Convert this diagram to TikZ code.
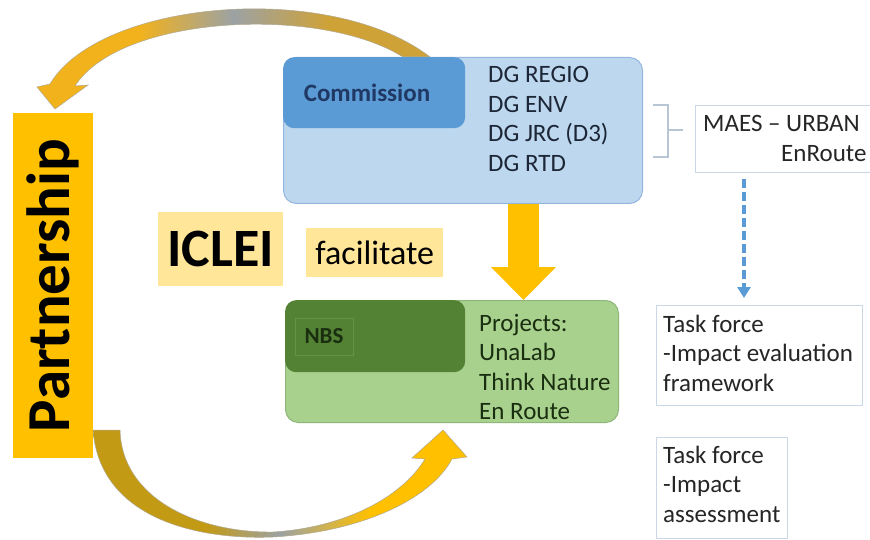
\documentclass[tikz,border=0pt]{standalone}
\usepackage{fontspec}
\setmainfont{Carlito}
\usetikzlibrary{arrows.meta}

\definecolor{gold}{HTML}{FFC000}
\definecolor{goldpale}{HTML}{FFE699}
\definecolor{golddeep}{HTML}{C39A14}
\definecolor{goldtan}{HTML}{CFA238}
\definecolor{goldsun}{HTML}{F2B21C}
\definecolor{arcgray}{HTML}{9CA2A4}
\definecolor{arcedge}{HTML}{B0A890}
\definecolor{bluepale}{HTML}{BDD7EE}
\definecolor{blueedge}{HTML}{94B6DE}
\definecolor{bluemid}{HTML}{5B9BD5}
\definecolor{navy}{HTML}{1F3864}
\definecolor{greenpale}{HTML}{A9D18E}
\definecolor{greenedge}{HTML}{8DB678}
\definecolor{greendeep}{HTML}{548235}
\definecolor{inkgreen}{HTML}{1A2E10}
\definecolor{inkblue}{HTML}{1C2636}
\definecolor{paneledge}{HTML}{C9D7E6}
\definecolor{bracketgray}{HTML}{B7C5D5}

\pgfdeclarehorizontalshading{toparc}{100bp}{color(0bp)=(goldsun); color(25bp)=(goldsun); color(38bp)=(goldsun); color(50bp)=(arcgray); color(62bp)=(goldtan); color(75bp)=(goldtan); color(100bp)=(goldtan)}
\pgfdeclarehorizontalshading{lowarc}{100bp}{color(0bp)=(golddeep); color(25bp)=(golddeep); color(40bp)=(golddeep); color(50bp)=(arcgray); color(62bp)=(gold); color(75bp)=(gold); color(100bp)=(gold)}

\newcommand{\txtfont}{\fontsize{25}{29.5}\selectfont}

\tikzset{
  panel/.style={draw=#1, line width=1pt, rounded corners=13pt, anchor=north west, inner sep=0pt},
  headbox/.style={rounded corners=11pt, anchor=north west, inner sep=0pt},
  listtext/.style={anchor=base west, align=left, inner sep=0pt, font=\txtfont},
  notebox/.style={draw=paneledge, line width=1pt, fill=white, anchor=north west, inner sep=0pt},
  tagbox/.style={fill=goldpale, anchor=north west, inner sep=0pt},
}

\begin{document}
\begin{tikzpicture}[x=1pt, y=-1pt]
\path[fill=white, use as bounding box] (0,0) rectangle (870,540);

\shade[shading=toparc, draw=arcedge, line width=0.5pt]
  (403,57) -- (430,57) .. controls (330,-20) and (100,0) .. (50,84)
  -- (37,87) -- (55,109) -- (88,85) -- (75,86)
  .. controls (120,15) and (320,5) .. (403,57) -- cycle;
\shade[shading=lowarc, draw=arcedge, line width=0.5pt]
  (93,430) .. controls (100,520) and (200,540) .. (273,537)
  .. controls (360,532) and (430,500) .. (452,459)
  -- (467,457) -- (443,430) -- (412,458) -- (425,459)
  .. controls (400,500) and (340,528) .. (273,532)
  .. controls (200,533) and (122,500) .. (120,430) -- cycle;

\node[fill=gold, minimum width=345pt, minimum height=80pt, rotate=90,
  font=\fontsize{61}{62}\selectfont\bfseries] (partner) at (53,285.5) {Partnership};

\node[panel=blueedge, fill=bluepale, minimum width=359pt, minimum height=146pt] (comm) at (283,57) {};
\node[headbox, fill=bluemid, minimum width=182pt, minimum height=71pt] (commhead) at (283,57) {};
\node[font=\fontsize{25}{29}\selectfont\bfseries, text=navy] (commlabel) at (367,93) {Commission};
\node[listtext, text=inkblue] (dglist) at (488,171.5) {DG REGIO\\DG ENV\\DG JRC (D3)\\DG RTD};

\node[tagbox, minimum width=125pt, minimum height=74pt, font=\fontsize{54}{54}\selectfont\bfseries] (iclei) at (158,212) {ICLEI};
\node[tagbox, minimum width=137pt, minimum height=49pt, font=\fontsize{34}{34}\selectfont] (facil) at (306,228) {facilitate};

\node[panel=greenedge, fill=greenpale, minimum width=333pt, minimum height=122pt] (nbs) at (285,300) {};
\node[headbox, fill=greendeep, minimum width=180pt, minimum height=72pt] (nbshead) at (285,300) {};
\node[draw=greendeep!80!greenpale, line width=0.6pt, minimum width=58pt, minimum height=37pt, inner sep=0pt,
  font=\fontsize{23}{25}\selectfont\bfseries, text=inkgreen] (nbslabel) at (324,336.5) {NBS};
\node[listtext, text=inkgreen] (projects) at (479,419.5) {Projects:\\UnaLab\\Think Nature\\En Route};

\coordinate (dropx) at (523.5,0);
\draw[gold, line width=31pt, -{Triangle[width=65pt,length=33pt,line width=0pt]}] (comm.south -| dropx) -- (nbs.north -| dropx);

\node[notebox, minimum width=190pt, minimum height=67pt] (maes) at (695,105) {};
\node[listtext, text=black!85] (maestext) at (703,161.5) {MAES – URBAN\\\hspace*{78pt}EnRoute};
\draw[bracketgray, line width=1.2pt] (653,105) -- (668,105) -- (668,157) -- (653,157) (668,130) -- (683,130);

\node[notebox, minimum width=206pt, minimum height=100pt] (tf1) at (656,305) {};
\node[listtext, text=black!85] (tf1text) at (663,391) {Task force\\-Impact evaluation\\framework};
\node[notebox, minimum width=131pt, minimum height=101pt] (tf2) at (656,437) {};
\node[listtext, text=black!85] (tf2text) at (663,522) {Task force\\-Impact\\assessment};

\coordinate (dashx) at (744,0);
\draw[bluemid, line width=3.5pt, dash pattern=on 9pt off 4pt, shorten <=6pt, shorten >=7pt,
  -{Triangle[width=13pt,length=11pt]}] (maes.south -| dashx) -- (tf1.north -| dashx);
\end{tikzpicture}
\end{document}
